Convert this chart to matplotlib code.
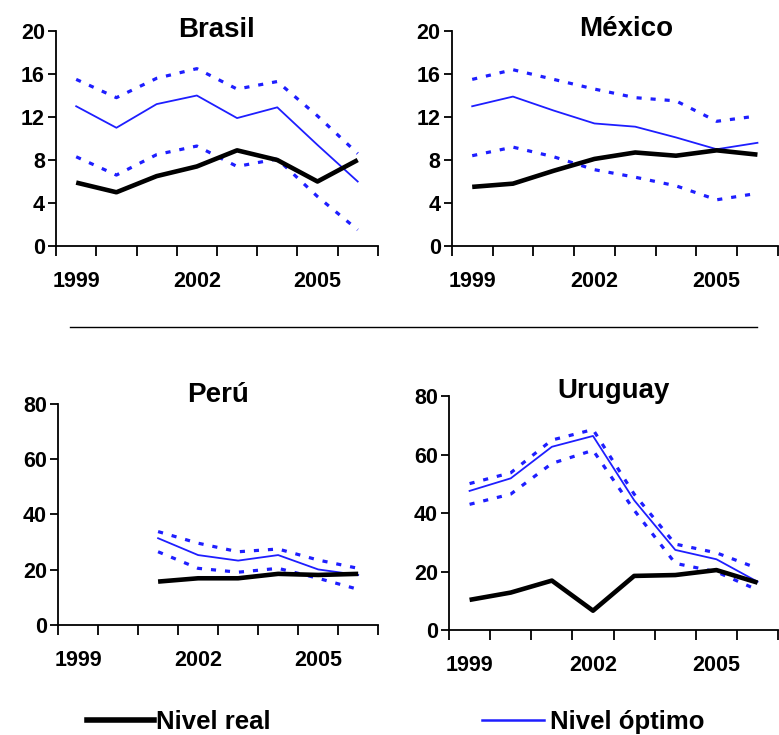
import numpy as np
import matplotlib
matplotlib.use("Agg")
import matplotlib.pyplot as plt
from matplotlib.lines import Line2D

plt.rcParams['font.family'] = ['Liberation Sans', 'DejaVu Sans']

years = [1999, 2000, 2001, 2002, 2003, 2004, 2005, 2006]
nan = np.nan

# Brasil
brasil_real = [5.9, 5.0, 6.5, 7.4, 8.9, 8.0, 6.0, 8.0]
brasil_opt = [13.0, 11.0, 13.2, 14.0, 11.9, 12.9, 9.4, 6.0]
brasil_sup = [15.5, 13.8, 15.6, 16.5, 14.6, 15.3, 12.1, 8.6]
brasil_inf = [8.3, 6.6, 8.5, 9.3, 7.4, 8.1, 4.6, 1.5]

# México
mexico_real = [5.5, 5.8, 7.0, 8.1, 8.7, 8.4, 8.9, 8.5]
mexico_opt = [13.0, 13.9, 12.6, 11.4, 11.1, 10.1, 9.0, 9.6]
mexico_sup = [15.5, 16.4, 15.5, 14.6, 13.8, 13.5, 11.6, 12.1]
mexico_inf = [8.4, 9.2, 8.3, 7.1, 6.4, 5.6, 4.3, 4.9]

# Perú (sin datos 1999-2000)
peru_real = [nan, nan, 15.7, 16.9, 16.9, 18.5, 18.1, 18.5]
peru_opt = [nan, nan, 31.4, 25.3, 23.3, 25.3, 20.1, 18.1]
peru_sup = [nan, nan, 33.8, 29.6, 26.5, 27.5, 23.5, 20.5]
peru_inf = [nan, nan, 26.5, 20.5, 19.1, 20.5, 16.9, 12.9]

# Uruguay
uruguay_real = [10.3, 12.8, 16.9, 6.6, 18.5, 18.8, 20.5, 16.2]
uruguay_opt = [47.6, 51.9, 62.7, 66.4, 44.4, 27.4, 24.2, 16.5]
uruguay_sup = [50.1, 53.8, 65.0, 68.6, 46.5, 29.4, 26.4, 21.1]
uruguay_inf = [43.0, 46.5, 57.0, 61.5, 41.0, 22.8, 19.9, 13.7]

xlabels = [1999, 2002, 2005]

BLUE = '#1e1eff'

fig = plt.figure(figsize=(7.79, 7.35), dpi=100)

paneles = [
    ("Brasil", [0.072, 0.6653, 0.413, 0.2925], 20, 4, 0.5, 0.972,
     brasil_real, brasil_opt, brasil_sup, brasil_inf),
    ("México", [0.580, 0.6653, 0.4185, 0.2925], 20, 4, 0.535, 0.975,
     mexico_real, mexico_opt, mexico_sup, mexico_inf),
    ("Perú", [0.0745, 0.1497, 0.411, 0.3007], 80, 20, 0.5, 1.009,
     peru_real, peru_opt, peru_sup, peru_inf),
    ("Uruguay", [0.5764, 0.1429, 0.4225, 0.318], 80, 20, 0.5, 0.991,
     uruguay_real, uruguay_opt, uruguay_sup, uruguay_inf),
]

for nombre, rect, ymax, paso, tx, ty, real, opt, sup, inf in paneles:
    ax = fig.add_axes(rect)
    for serie in (sup, inf):
        ax.plot(years, serie, color=BLUE, lw=2.3, linestyle=(0, (1.6, 2.8)),
                dash_capstyle='butt')
    ax.plot(years, opt, color=BLUE, lw=1.3)
    ax.plot(years, real, color='black', lw=3.3, solid_capstyle='butt')

    ax.set_xlim(years[0] - 0.5, years[-1] + 0.5)
    ax.set_ylim(0, ymax)
    ax.set_yticks(np.arange(0, ymax + 1, paso))
    ax.set_yticklabels([str(v) for v in np.arange(0, ymax + 1, paso)],
                       fontsize=15.5, fontweight='bold')
    ax.set_xticks(np.arange(years[0] - 0.5, years[-1] + 1, 1.0))
    ax.set_xticklabels([])
    ax.set_xticks(xlabels, minor=True)
    ax.set_xticklabels([str(a) for a in xlabels], minor=True,
                       fontsize=15.5, fontweight='bold')
    ax.tick_params(axis='x', which='major', direction='out', length=7, width=1.3)
    ax.tick_params(axis='x', which='minor', length=0, pad=18)
    ax.tick_params(axis='y', direction='out', length=6, width=1.3, pad=2)
    for s in ('top', 'right'):
        ax.spines[s].set_visible(False)
    for s in ('left', 'bottom'):
        ax.spines[s].set_linewidth(1.3)
    ax.set_facecolor('none')
    ax.text(tx, ty, nombre, transform=ax.transAxes, ha='center', va='baseline',
            fontsize=20, fontweight='bold')

fig.add_artist(Line2D([70 / 779, 757 / 779], [1 - 327 / 735, 1 - 327 / 735],
                      color='black', lw=1.0))

h_real = Line2D([], [], color='black', lw=4)
h_opt = Line2D([], [], color=BLUE, lw=1.8)
fontley = {'family': 'Liberation Sans', 'size': 18.5, 'weight': 'bold'}
fig.legend([h_real], ["Nivel real"], loc='center left',
           bbox_to_anchor=(87 / 779, 0.0177), frameon=False, prop=fontley,
           handlelength=2.6, handletextpad=0.1, borderaxespad=0, borderpad=0)
fig.legend([h_opt], ["Nivel óptimo"], loc='center left',
           bbox_to_anchor=(482 / 779, 0.0177), frameon=False, prop=fontley,
           handlelength=2.4, handletextpad=0.25, borderaxespad=0, borderpad=0)

fig.savefig("out.png", dpi=100)
